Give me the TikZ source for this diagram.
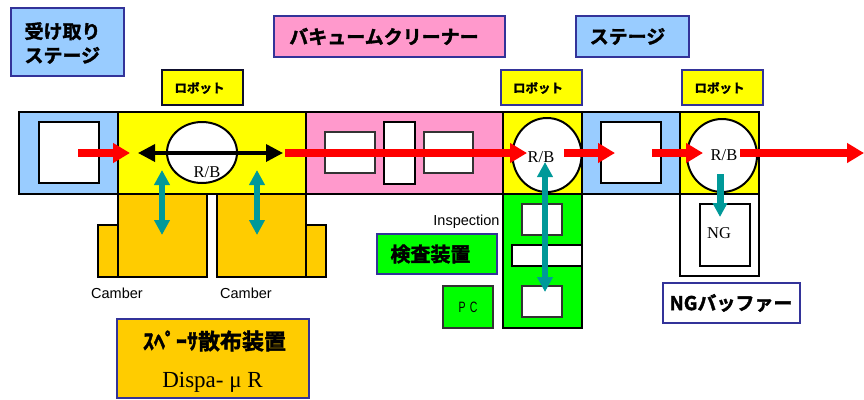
\documentclass[tikz,border=0pt]{standalone}
\usepackage{fontspec}
\setmainfont{Liberation Serif}
\setsansfont{Liberation Sans}
\newfontfamily\jp{Noto Sans CJK JP}[BoldFont={* Bold}, BoldFeatures={FakeBold=1.8}]
\usetikzlibrary{arrows.meta,shapes.geometric}
\definecolor{lblue}{HTML}{99CCFF}
\definecolor{yel}{HTML}{FFFF00}
\definecolor{pnk}{HTML}{FF99CC}
\definecolor{orng}{HTML}{FFCC00}
\definecolor{grn}{HTML}{00FF00}
\definecolor{navy}{HTML}{333399}
\definecolor{teal2}{HTML}{009999}
\newcommand\bx[7]{%
  \pgfmathsetmacro\bxw{#5-#3}\pgfmathsetmacro\bxh{#6-#4}%
  \node[#2, minimum width=\bxw pt, minimum height=\bxh pt] (#1) at ({(#3+#5)/2},{(#4+#6)/2}) {#7};}
\tikzset{
  box/.style={rectangle, draw=black, line width=2pt, inner sep=0pt, outer sep=0pt},
  thinbox/.style={rectangle, draw=black!80, line width=1.3pt, inner sep=0pt, outer sep=0pt},
  lbl/.style={rectangle, draw=navy, line width=2.5pt, inner sep=0pt, outer sep=0pt},
  jp/.style={font=\jp\bfseries\fontsize{19}{24}\selectfont, inner sep=0pt},
  jpsm/.style={font=\jp\bfseries\fontsize{12.5}{14}\selectfont, inner sep=0pt},
  rb/.style={font=\rmfamily\fontsize{16.5}{18}\selectfont, inner sep=0pt},
  sf/.style={font=\sffamily\fontsize{14.5}{16}\selectfont, inner sep=0pt},
  robo/.style={ellipse, draw=black, line width=2pt, fill=white, inner sep=0pt},
  redarr/.style={draw=red, line width=8pt, -{Triangle[length=17pt,width=19pt]}},
  blkarr/.style={draw=black, line width=3.5pt, {Triangle[length=17pt,width=17pt]}-{Triangle[length=17pt,width=17pt]}},
  tealdbl/.style={draw=teal2, line width=5.5pt, {Triangle[length=15pt,width=15pt]}-{Triangle[length=15pt,width=15pt]}},
  tealone/.style={draw=teal2, line width=7pt, -{Triangle[length=14pt,width=14pt]}}
}
\begin{document}
\begin{tikzpicture}[x=1pt,y=-1pt]
\useasboundingbox (0,0) rectangle (864,399);
% main row
\bx{st1}{box,fill=lblue}{19}{112}{118}{194}{}
\bx{st1in}{box,fill=white}{39}{122}{99}{183}{}
\bx{camL}{box,fill=orng}{98}{225}{118}{277}{}
\bx{camR}{box,fill=orng}{306}{225}{326}{277}{}
\bx{cam1}{box,fill=orng}{118}{194}{207}{277}{}
\bx{cam2}{box,fill=orng}{217}{194}{306}{277}{}
\bx{rb1}{box,fill=yel}{118}{112}{306}{194}{}
\bx{vac}{box,fill=pnk}{306}{112}{503}{194}{}
\bx{vac1}{thinbox,fill=white}{325}{132}{375}{173}{}
\bx{vac2}{box,fill=white}{384}{122}{415}{184}{}
\bx{vac3}{thinbox,fill=white}{424}{132}{473}{173}{}
\bx{rb2}{box,fill=yel}{503}{112}{582}{194}{}
\bx{st2}{box,fill=lblue}{582}{112}{680}{194}{}
\bx{st2in}{box,fill=white}{601}{122}{661}{183}{}
\bx{rb3}{box,fill=yel}{680}{112}{759}{194}{}
\bx{insp}{box,fill=grn}{503}{194}{582}{328}{}
\bx{insp1}{thinbox,fill=white}{522}{204}{562}{235}{}
\bx{insp2}{box,fill=white}{512}{245}{582}{266}{}
\bx{insp3}{thinbox,fill=white}{522}{286}{562}{317}{}
\bx{pc}{thinbox,fill=grn,font=\sffamily\fontsize{15}{16}\selectfont}{443}{286}{493}{328}{\scalebox{0.7}[1]{P\hspace{6pt}C}}
\bx{ngb}{box,fill=white}{680}{194}{759}{276}{}
\bx{ngin}{box,fill=white}{700}{204}{750}{266}{}
% robots
\node[robo, minimum width=70pt, minimum height=61pt] (c1) at (202,152.5) {};
\node[robo, minimum width=69pt, minimum height=74pt] (c2) at (547,155) {};
\node[robo, minimum width=70pt, minimum height=73pt] (c3) at (722,155.5) {};
% labels
\bx{lrecv}{lbl,fill=lblue}{11}{8}{124}{76}{}
\bx{lvac}{lbl,fill=pnk}{274}{16}{505}{57}{}
\bx{lstage}{lbl,fill=lblue}{576}{16}{689}{57}{}
\bx{lr1}{lbl,draw=black!70!navy,fill=yel}{162}{70}{243}{105}{}
\bx{lr2}{lbl,fill=yel}{501}{70}{582}{105}{}
\bx{lr3}{lbl,fill=yel}{682}{70}{763}{105}{}
\bx{lins}{lbl,fill=grn}{377}{234}{497}{274}{}
\bx{lng}{lbl,fill=white}{663}{283}{800}{323}{}
\bx{lsp}{lbl,fill=orng}{117}{319}{309}{398}{}
% arrow end points
\coordinate (r1a) at (78,153);  \coordinate (r1b) at (130,153);
\coordinate (r2a) at (285,153); \coordinate (r2b) at (527,153);
\coordinate (r3a) at (564,153); \coordinate (r3b) at (615,153);
\coordinate (r4a) at (652,153); \coordinate (r4b) at (703,153);
\coordinate (r5a) at (740,153); \coordinate (r5b) at (864,153);
\coordinate (ba) at (138,153);  \coordinate (bb) at (283,153);
\coordinate (t1a) at (162,170); \coordinate (t1b) at (162,235);
\coordinate (t2a) at (257,170); \coordinate (t2b) at (257,235);
\coordinate (t3a) at (545,162); \coordinate (t3b) at (545,292);
\coordinate (t4a) at (720,174); \coordinate (t4b) at (720,217);
\draw[redarr] (r1a) -- (r1b);
\draw[redarr] (r2a) -- (r2b);
\draw[redarr] (r3a) -- (r3b);
\draw[redarr] (r4a) -- (r4b);
\draw[redarr] (r5a) -- (r5b);
\draw[blkarr] (ba) -- (bb);
\draw[tealdbl] (t1a) -- (t1b);
\draw[tealdbl] (t2a) -- (t2b);
\draw[tealdbl] (t3a) -- (t3b);
\draw[tealone] (t4a) -- (t4b);
% texts
\node[rb] (rbt1) at (207,172) {R/B};
\node[rb] (rbt2) at (541,157) {R/B};
\node[rb] (rbt3) at (724,155) {R/B};
\node[rb] (ngt) at (719,233) {NG};
\node[sf] (camt1) at (117,293) {Camber};
\node[sf] (camt2) at (246,293) {Camber};
\node[sf] (inst) at (466.5,222) {Inspection};
\node[jp, align=left] (trecv) at (62.5,43) {受け取り\\ステージ};
\node[jp] (tvac) at (384,36.5) {バキュームクリーナー};
\node[jp] (tstage) at (627.5,36.5) {ステージ};
\node[jpsm] (tr1) at (199.5,88) {ロボット};
\node[jpsm] (tr2) at (538,88) {ロボット};
\node[jpsm] (tr3) at (719.5,88) {ロボット};
\node[jp,font=\jp\bfseries\fontsize{20}{24}\selectfont] (tins) at (430.5,254) {検査装置};
\node[jp] (tng) at (731,303) {NGバッファー};
\node[jp,font=\jp\bfseries\fontsize{22}{24}\selectfont] (tsp) at (214.5,341) {ｽﾍﾟｰｻ散布装置};
\node[font=\rmfamily\fontsize{23}{24}\selectfont, inner sep=0pt] (tdis) at (212.5,382) {Dispa- μ R};
\end{tikzpicture}
\end{document}
